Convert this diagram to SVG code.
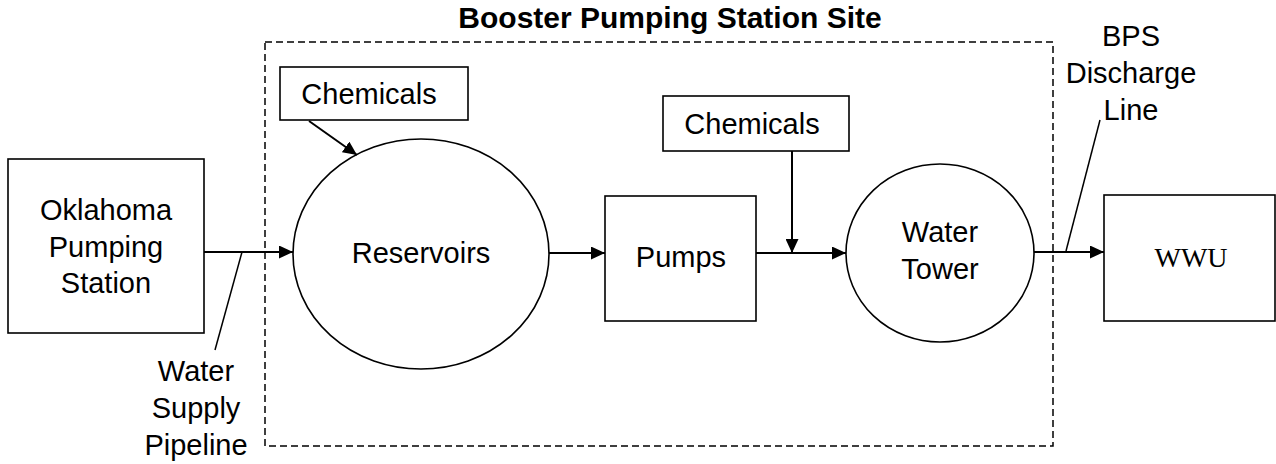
<svg xmlns="http://www.w3.org/2000/svg" width="1276" height="464" viewBox="0 0 1276 464">
<style>
.shape{fill:#fff;stroke:#000;stroke-width:1.6}
.dash{fill:none;stroke:#000;stroke-width:1.5;stroke-dasharray:7 4}
.conn{fill:none;stroke:#000;stroke-width:2}
.lead{fill:none;stroke:#000;stroke-width:1.5}
text{font-family:"Liberation Sans",Arial,sans-serif;font-size:29px;fill:#000;text-anchor:middle}
.title{font-weight:bold;font-size:30px}
.serif{font-family:"Liberation Serif","Times New Roman",serif;font-size:28px}
</style>
<defs>
<marker id="arr" markerUnits="userSpaceOnUse" markerWidth="15" markerHeight="13" refX="14" refY="6.5" orient="auto">
<path d="M0,0 L14,6.5 L0,13 z" fill="#000"/>
</marker>
</defs>
<rect id="site-boundary" class="dash" x="265" y="42" width="788" height="404"/>
<text class="title" x="670" y="28">Booster Pumping Station Site</text>
<g id="oklahoma">
<rect class="shape" x="8" y="159" width="196" height="174"/>
<text x="106" y="220">Oklahoma</text>
<text x="106" y="257">Pumping</text>
<text x="106" y="293">Station</text>
</g>
<g id="chemicals1">
<rect class="shape" x="280" y="67" width="188" height="53"/>
<text x="369" y="104">Chemicals</text>
</g>
<g id="reservoirs">
<ellipse class="shape" cx="421" cy="254" rx="128" ry="115"/>
<text x="421" y="263">Reservoirs</text>
</g>
<g id="pumps">
<rect class="shape" x="605" y="196" width="151" height="125"/>
<text x="681" y="267">Pumps</text>
</g>
<g id="chemicals2">
<rect class="shape" x="663" y="96" width="186" height="55"/>
<text x="752" y="134">Chemicals</text>
</g>
<g id="water-tower">
<ellipse class="shape" cx="940" cy="253" rx="94" ry="89"/>
<text x="940" y="242">Water</text>
<text x="940" y="279">Tower</text>
</g>
<g id="wwu">
<rect class="shape" x="1104" y="195" width="171" height="126"/>
<text class="serif" x="1191" y="267">WWU</text>
</g>
<g id="connectors">
<line class="conn" x1="204" y1="252" x2="293" y2="252" marker-end="url(#arr)"/>
<line class="conn" x1="309" y1="121" x2="357" y2="155" marker-end="url(#arr)"/>
<line class="conn" x1="549" y1="253" x2="605" y2="253" marker-end="url(#arr)"/>
<line class="conn" x1="792" y1="151" x2="792" y2="253" marker-end="url(#arr)"/>
<line class="conn" x1="756" y1="253" x2="846" y2="253" marker-end="url(#arr)"/>
<line class="conn" x1="1034" y1="252" x2="1104" y2="252" marker-end="url(#arr)"/>
<line class="lead" x1="242" y1="252" x2="215" y2="350"/>
<line class="lead" x1="1066" y1="251" x2="1100" y2="120"/>
</g>
<g id="labels">
<text x="196" y="381">Water</text>
<text x="196" y="418">Supply</text>
<text x="196" y="455">Pipeline</text>
<text x="1131" y="46">BPS</text>
<text x="1131" y="83">Discharge</text>
<text x="1131" y="120">Line</text>
</g>
</svg>
